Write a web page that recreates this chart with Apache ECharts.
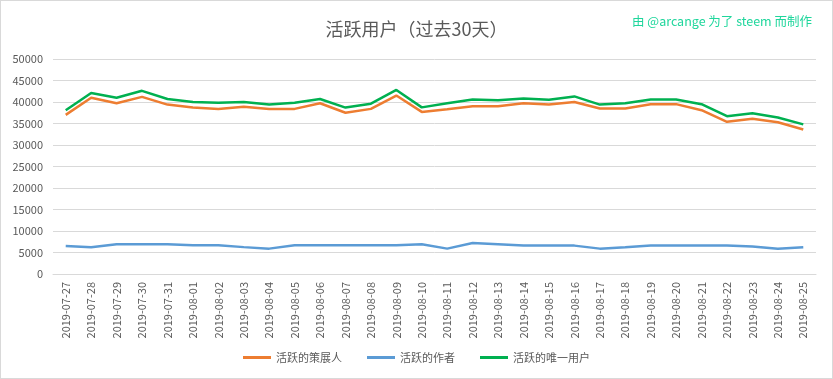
<!DOCTYPE html>
<html><head><meta charset="utf-8">
<script src="https://cdn.jsdelivr.net/npm/echarts@6/dist/echarts.min.js"></script>
<style>html,body{margin:0;padding:0;background:#fff}#c{width:831px;height:377px;border:1px solid #d9d9d9}</style>
</head><body><div id="c"></div>
<script>
const categories = ['2019-07-27','2019-07-28','2019-07-29','2019-07-30','2019-07-31','2019-08-01','2019-08-02','2019-08-03','2019-08-04','2019-08-05','2019-08-06','2019-08-07','2019-08-08','2019-08-09','2019-08-10','2019-08-11','2019-08-12','2019-08-13','2019-08-14','2019-08-15','2019-08-16','2019-08-17','2019-08-18','2019-08-19','2019-08-20','2019-08-21','2019-08-22','2019-08-23','2019-08-24','2019-08-25'];
const curators = [37000,41000,39700,41200,39400,38700,38400,38900,38400,38400,39700,37500,38400,41500,37700,38300,39000,39000,39700,39400,40000,38500,38500,39500,39500,38100,35400,36100,35300,33600];
const authors = [6500,6200,6900,6900,6900,6700,6700,6250,5900,6700,6700,6700,6700,6700,6900,5900,7200,6900,6600,6600,6600,5900,6200,6600,6600,6600,6600,6400,5900,6200];
const uniqueUsers = [38100,42100,41000,42600,40700,40000,39800,40000,39400,39800,40700,38700,39600,42800,38750,39700,40600,40400,40800,40500,41300,39400,39700,40600,40600,39500,36700,37400,36400,34800];
const yTicks = {min:0, max:50000, interval:5000};

const chart = echarts.init(document.getElementById('c'));
const txt = '#595959';
const font = '"Noto Sans CJK SC","Noto Sans",sans-serif';
chart.setOption({
  animation:false,
  textStyle:{fontFamily:font},
  title:[{text:'活跃用户（过去30天）',left:'center',top:14,textStyle:{fontSize:18,fontWeight:'normal',color:txt,fontFamily:font}},
         {text:'由 @arcange 为了 steem 而制作',right:15,top:9,textStyle:{fontSize:12.5,fontWeight:'normal',color:'#1fd69c',fontFamily:font}}],
  grid:{left:52,right:16,top:58,bottom:104,containLabel:false},
  legend:{bottom:10,left:'center',itemWidth:28,itemHeight:3,itemGap:25,icon:'rect',textStyle:{fontSize:11,color:txt,fontFamily:font},
    data:['活跃的策展人','活跃的作者','活跃的唯一用户']},
  xAxis:{type:'category',data:categories,boundaryGap:true,
    axisLine:{lineStyle:{color:'#d9d9d9'}},axisTick:{show:false},
    axisLabel:{rotate:90,interval:0,color:txt,fontSize:11,margin:8}},
  yAxis:{type:'value',min:yTicks.min,max:yTicks.max,interval:yTicks.interval,
    axisLine:{show:false},axisTick:{show:false},
    axisLabel:{color:txt,fontSize:11,margin:10,formatter:v=>String(v)},
    splitLine:{lineStyle:{color:'#d9d9d9'}}},
  series:[
    {name:'活跃的策展人',type:'line',data:curators,symbol:'none',lineStyle:{width:2.5,color:'#ED7D31'},itemStyle:{color:'#ED7D31'}},
    {name:'活跃的作者',type:'line',data:authors,symbol:'none',lineStyle:{width:2.5,color:'#5B9BD5'},itemStyle:{color:'#5B9BD5'}},
    {name:'活跃的唯一用户',type:'line',data:uniqueUsers,symbol:'none',lineStyle:{width:2.5,color:'#00B050'},itemStyle:{color:'#00B050'}}
  ]
});
</script></body></html>
